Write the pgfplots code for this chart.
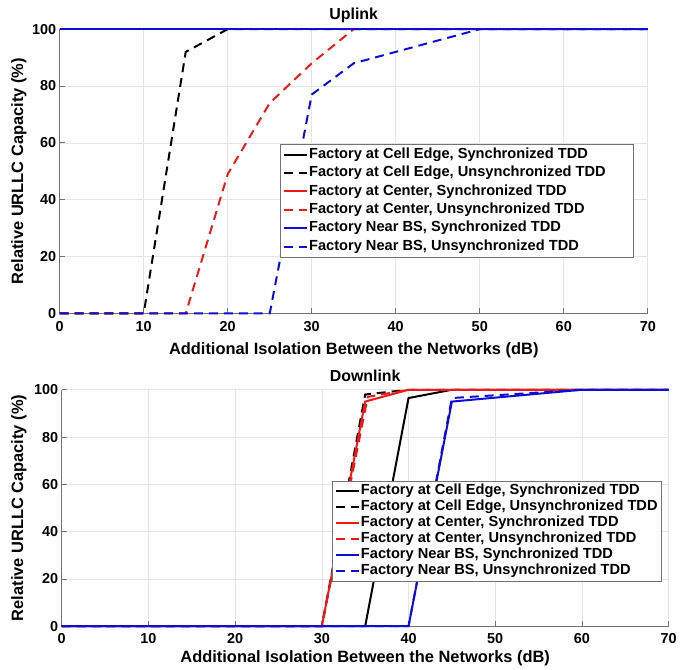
\documentclass[border=0pt]{standalone}
\usepackage{fontspec}
\setmainfont{Liberation Sans}
\usepackage{pgfplots}
\pgfplotsset{compat=1.18}

\definecolor{mred}{rgb}{0.93,0.1,0.1}
\definecolor{mblue}{rgb}{0.05,0.05,0.85}
\definecolor{axgray}{rgb}{0.45,0.45,0.45}
\definecolor{grdgray}{rgb}{0.9,0.9,0.9}

\pgfplotsset{
  urllc/.style={
    scale only axis,
    xmin=0, xmax=70, ymin=0, ymax=100,
    xtick={0,10,...,70}, ytick={0,20,...,100},
    axis x line*=bottom, axis y line*=left,
    axis line style={color=axgray, line width=0.8pt},
    tick style={color=axgray, line width=0.8pt},
    tick align=inside, major tick length=5pt,
    grid=major, major grid style={color=grdgray, line width=0.6pt},
    clip=false,
    /pgf/number format/assume math mode=true,
    ticklabel style={font=\bfseries\fontsize{14.5}{16}\selectfont},
    xlabel={Additional Isolation Between the Networks (dB)},
    ylabel={Relative URLLC Capacity (\%)},
    label style={font=\bfseries\fontsize{16.5}{18}\selectfont},
    every axis title shift=0pt,
    title style={font=\bfseries\fontsize{16}{18}\selectfont,
      at={(axis description cs:0.5,1)}, anchor=center, yshift=14pt},
    xlabel style={at={(axis description cs:0.5,0)}, anchor=center},
    legend cell align=left,
    legend image code/.code={\draw[#1] (0pt,0pt) -- (23pt,0pt);},
    legend style={draw=axgray, line width=0.6pt, fill=white,
      font=\bfseries\fontsize{14.7}{16}\selectfont, anchor=north west,
      inner xsep=3pt,
      nodes={inner xsep=1pt, inner ysep=0pt, text height=10.5pt, text depth=3pt}},
    every axis plot/.append style={line width=2pt},
  },
  sol/.style={solid},
  dsh/.style={dash pattern=on 9pt off 6pt},
}

\begin{document}
\begin{tikzpicture}
\path (0pt,0pt) rectangle (680pt,-671pt);

% Uplink
\begin{axis}[urllc,
  at={(60pt,-29.3pt)}, anchor=north west,
  width=591pt, height=285.7pt,
  title={Uplink},
  ylabel style={at={(axis description cs:-0.0694,0.5)}, anchor=center},
  xlabel style={yshift=-36.7pt},
  xticklabel style={yshift=-4pt},
  legend style={at={(0.3745,0.5975)}, inner ysep=4pt, row sep=5pt},
]
\addplot[black, sol] coordinates {(0,100) (70,100)};
\addplot[black, dsh] coordinates {(0,0) (10,0) (15,92) (20,100) (70,100)};
\addplot[mred, sol] coordinates {(0,100) (70,100)};
\addplot[mred, dsh] coordinates {(0,0) (15,0) (20,49) (25,74) (30,88) (35,100) (70,100)};
\addplot[mblue, sol] coordinates {(0,100) (70,100)};
\addplot[mblue, dsh] coordinates {(0,0) (25,0) (30,77) (35,88) (50,100) (70,100)};
\legend{{Factory at Cell Edge, Synchronized TDD},
  {Factory at Cell Edge, Unsynchronized TDD\hspace*{24pt}},
  {Factory at Center, Synchronized TDD},
  {Factory at Center, Unsynchronized TDD},
  {Factory Near BS, Synchronized TDD},
  {Factory Near BS, Unsynchronized TDD}}
\end{axis}

% Downlink
\begin{axis}[urllc,
  at={(62pt,-391.7pt)}, anchor=north west,
  width=610pt, height=237.6pt,
  title={Downlink},
  ylabel style={at={(axis description cs:-0.0705,0.5)}, anchor=center},
  xlabel style={yshift=-32.4pt},
  xticklabel style={yshift=-3.5pt},
  legend style={at={(0.445,0.6145)}, inner ysep=3.3pt, row sep=2.5pt},
]
\addplot[black, sol] coordinates {(0,0) (35,0) (40,96.5) (45,100) (70,100)};
\addplot[black, dsh] coordinates {(0,0) (30,0) (35,98) (40,100) (70,100)};
\addplot[mred, sol] coordinates {(0,0) (30,0) (35,95) (40,100) (70,100)};
\addplot[mred, dsh] coordinates {(0,0) (30,0) (35.3,97) (40,100) (70,100)};
\addplot[mblue, sol] coordinates {(0,0) (40,0) (45,95) (60,100) (70,100)};
\addplot[mblue, dsh] coordinates {(0,0) (40,0) (45,96.5) (60,100) (70,100)};
\legend{{Factory at Cell Edge, Synchronized TDD},
  {Factory at Cell Edge, Unsynchronized TDD},
  {Factory at Center, Synchronized TDD},
  {Factory at Center, Unsynchronized TDD},
  {Factory Near BS, Synchronized TDD},
  {Factory Near BS, Unsynchronized TDD}}
\end{axis}
\end{tikzpicture}
\end{document}
